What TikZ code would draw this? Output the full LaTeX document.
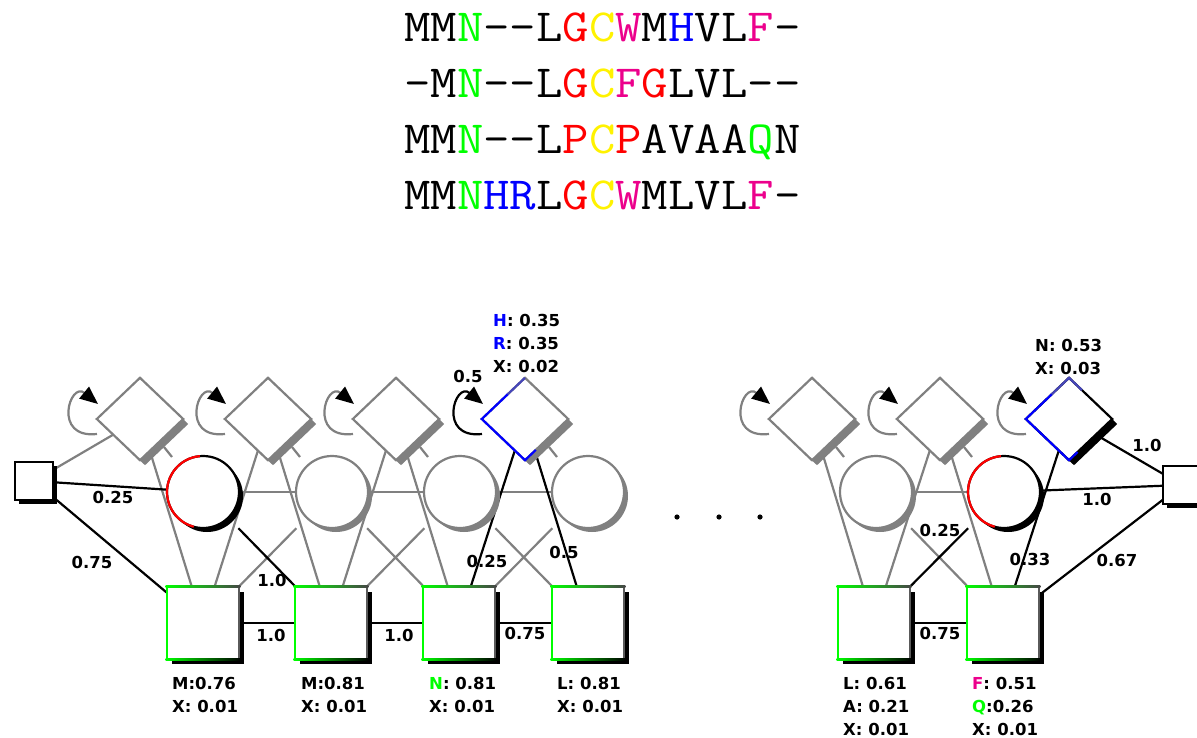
\documentclass[tikz,border=0pt]{standalone}
\usepackage{fontspec}
\setmainfont{DejaVu Sans}
\usetikzlibrary{shapes.geometric,arrows.meta,calc}
\definecolor{hg}{RGB}{128,128,128}
\definecolor{hgreen}{RGB}{0,255,0}
\definecolor{hdark}{RGB}{70,70,70}
\newcommand\hy{\mbox{-}}
\newcommand\sgreen[1]{\textcolor{hgreen}{#1}}
\newcommand\sred[1]{\textcolor{red}{#1}}
\newcommand\syellow[1]{\textcolor{yellow}{#1}}
\newcommand\smag[1]{\textcolor{magenta}{#1}}
\newcommand\sblue[1]{\textcolor{blue}{#1}}
\newcommand\seqline[1]{\scalebox{1.115}[1]{\ttfamily\addfontfeature{FakeBold=1.2}\fontsize{46}{54}\selectfont #1}}
% insert state visual: node, border colour, shadow colour
\newcommand\drawins[3]{%
  \fill[#3] ([shift={(5,5)}]#1.north) -- ([shift={(5,5)}]#1.east) -- ([shift={(5,5)}]#1.south) -- ([shift={(5,5)}]#1.west) -- cycle;
  \draw[fill=white, line width=2.2pt, draw=#2] (#1.north) -- (#1.east) -- (#1.south) -- (#1.west) -- cycle;
}
\newcommand\drawtick[1]{\draw[hg, line width=2.2pt] ([shift={(24,28)}]#1.center) -- ([shift={(32,38)}]#1.center);}
% delete state visual: node, border colour, shadow colour
\newcommand\drawdel[3]{%
  \fill[#3] ([shift={(4,4)}]#1.center) circle[radius=36pt];
  \draw[#2, fill=white, line width=2.2pt] (#1.center) circle[radius=36pt];
}
\newcommand\redarc[1]{\draw[red, line width=2.2pt] ([shift={(95:36pt)}]#1.center) arc[start angle=95, end angle=255, radius=36pt];}
% match state visual
\newcommand\drawmat[1]{%
  \fill[black] ([shift={(5,5)}]#1.north west) rectangle ([shift={(5,5)}]#1.south east);
  \draw[fill=white, draw=hg!70!black, line width=2.2pt] (#1.north west) rectangle (#1.south east);
  \shade[left color=hgreen, right color=hdark] ([shift={(-1.1,-1.1)}]#1.north west) rectangle ([shift={(1.1,1.1)}]#1.north east);
  \shade[left color=hgreen, right color=black] ([shift={(-1.1,-1.1)}]#1.south west) rectangle ([shift={(1.1,1.1)}]#1.south east);
  \draw[hgreen, line width=2.2pt] (#1.north west) -- (#1.south west);
}
\newcommand\drawterm[1]{%
  \fill[black] ([shift={(4,4)}]#1.north west) rectangle ([shift={(4,4)}]#1.south east);
  \draw[fill=white, draw=black, line width=2.2pt] (#1.north west) rectangle (#1.south east);
}
\newcommand\selfloop[2]{\draw[#2] ([shift={(-43,15)}]#1.center) .. controls ([shift={(-88,20)}]#1.center) and ([shift={(-70,-38)}]#1.center) .. ([shift={(-42,-15)}]#1.center);}

\begin{document}
\begin{tikzpicture}[x=1pt,y=-1pt,
  gedge/.style={draw=hg, line width=2.2pt},
  bedge/.style={draw=black, line width=2.2pt},
  ins/.style={shape=diamond, minimum width=86pt, minimum height=82pt, inner sep=0pt},
  del/.style={shape=rectangle, minimum size=72pt, inner sep=0pt},
  mat/.style={shape=rectangle, minimum size=72pt, inner sep=0pt},
  term/.style={shape=rectangle, minimum size=38pt, inner sep=0pt},
  lab/.style={font=\bfseries\fontsize{16.5}{23}\selectfont, inner sep=0pt},
  seq/.style={inner sep=0pt, anchor=base west},
  loopg/.style={draw=hg, line width=2.2pt, -{Triangle[length=18pt,width=15pt,color=black]}},
  loopb/.style={draw=black, line width=2.2pt, -{Triangle[length=18pt,width=15pt,color=black]}},
]
\clip (0,0) rectangle (1197,738);

% alignment
\node[seq] (s1) at (404,42) {\seqline{MM\sgreen{N}\hy\hy L\sred{G}\syellow{C}\smag{W}M\sblue{H}VL\smag{F}\hy}};
\node[seq] (s2) at (404,98) {\seqline{\hy M\sgreen{N}\hy\hy L\sred{G}\syellow{C}\smag{F}\sred{G}LVL\hy\hy}};
\node[seq] (s3) at (404,154) {\seqline{MM\sgreen{N}\hy\hy L\sred{P}\syellow{C}\sred{P}AVAA\sgreen{Q}N}};
\node[seq] (s4) at (404,210) {\seqline{MM\sgreen{N}\sblue{HR}L\sred{G}\syellow{C}\smag{W}MLVL\smag{F}\hy}};

% state placeholders
\node[term] (B) at (34,481) {};
\node[term] (E) at (1182,485) {};
\node[ins] (I0) at (140,419) {};
\node[ins] (I1) at (268,419) {};
\node[ins] (I2) at (396,419) {};
\node[ins] (I3) at (525,419) {};
\node[ins] (Ia) at (812,419) {};
\node[ins] (Ib) at (940,419) {};
\node[ins] (Ic) at (1069,419) {};
\node[del] (D1) at (203,492) {};
\node[del] (D2) at (332,492) {};
\node[del] (D3) at (460,492) {};
\node[del] (D4) at (588,492) {};
\node[del] (Da) at (876,492) {};
\node[del] (Db) at (1004,492) {};
\node[mat] (M1) at (203,623) {};
\node[mat] (M2) at (331,623) {};
\node[mat] (M3) at (459,623) {};
\node[mat] (M4) at (588,623) {};
\node[mat] (Ma) at (874,623) {};
\node[mat] (Mb) at (1003,623) {};

% grey transitions
\draw[gedge] (B) -- (I0);
\draw[gedge] (I0) -- (M1);
\draw[gedge] (M1) -- (I1);
\draw[gedge] (D1) -- (D2);
\draw[gedge] (M1) -- (D2);
\draw[gedge] (I1) -- (M2);
\draw[gedge] (M2) -- (I2);
\draw[gedge] (D2) -- (D3);
\draw[gedge] (D2) -- (M3);
\draw[gedge] (M2) -- (D3);
\draw[gedge] (I2) -- (M3);
\draw[gedge] (D3) -- (D4);
\draw[gedge] (D3) -- (M4);
\draw[gedge] (M3) -- (D4);
\draw[gedge] (Ia) -- (Ma);
\draw[gedge] (Ma) -- (Ib);
\draw[gedge] (Ib) -- (Mb);
\draw[gedge] (Da) -- (Db);
\draw[gedge] (Da) -- (Mb);
% black transitions
\draw[bedge] (B) -- (D1);
\draw[bedge] (B) -- (M1);
\draw[bedge] (D1) -- (M2);
\draw[bedge] (M1) -- (M2);
\draw[bedge] (M2) -- (M3);
\draw[bedge] (M3) -- (I3);
\draw[bedge] (I3) -- (M4);
\draw[bedge] (M3) -- (M4);
\draw[bedge] (Ma) -- (Db);
\draw[bedge] (Ma) -- (Mb);
\draw[bedge] (Mb) -- (Ic);
\draw[bedge] (Mb) -- (E);
\draw[bedge] (Db) -- (E);
\draw[bedge] (Ic) -- (E);

% shapes
\drawterm{B}
\drawterm{E}
\drawins{I0}{hg}{hg}\drawtick{I0}
\drawins{I1}{hg}{hg}\drawtick{I1}
\drawins{I2}{hg}{hg}\drawtick{I2}
\drawins{I3}{hg}{hg}\drawtick{I3}
\draw[blue, line width=2.2pt] ($(I3.west)!0.6!(I3.north)$) -- (I3.west) -- (I3.south) -- ($(I3.south)!0.25!(I3.east)$);
\draw[blue!45!hg, line width=2.2pt] ($(I3.west)!0.6!(I3.north)$) -- (I3.north);
\drawins{Ia}{hg}{hg}\drawtick{Ia}
\drawins{Ib}{hg}{hg}\drawtick{Ib}
\drawins{Ic}{black}{black}
\draw[blue, line width=2.2pt] ($(Ic.west)!0.6!(Ic.north)$) -- (Ic.west) -- (Ic.south) -- ($(Ic.south)!0.2!(Ic.east)$);
\draw[blue!45!hg, line width=2.2pt] ($(Ic.west)!0.6!(Ic.north)$) -- (Ic.north) -- ($(Ic.north)!0.3!(Ic.east)$);

\drawdel{D1}{black}{black}\redarc{D1}
\drawdel{D2}{hg}{hg}
\drawdel{D3}{hg}{hg}
\drawdel{D4}{hg}{hg}
\drawdel{Da}{hg}{hg}
\drawdel{Db}{black}{black}\redarc{Db}

\drawmat{M1}\drawmat{M2}\drawmat{M3}\drawmat{M4}\drawmat{Ma}\drawmat{Mb}

% self loops
\selfloop{I0}{loopg}
\selfloop{I1}{loopg}
\selfloop{I2}{loopg}
\selfloop{I3}{loopb}
\selfloop{Ia}{loopg}
\selfloop{Ib}{loopg}
\selfloop{Ic}{loopg}

% dots
\fill (677,517) circle[radius=2.6pt];
\fill (719,517) circle[radius=2.6pt];
\fill (760,517) circle[radius=2.6pt];

% edge labels
\node[lab] (l1) at (113,497) {0.25};
\node[lab] (l2) at (92,562) {0.75};
\node[lab] (l3) at (272,580) {1.0};
\node[lab] (l4) at (271,635) {1.0};
\node[lab] (l5) at (399,635) {1.0};
\node[lab] (l6) at (525,633) {0.75};
\node[lab] (l7) at (487,561) {0.25};
\node[lab] (l8) at (564,552) {0.5};
\node[lab] (l9) at (468,376) {0.5};
\node[lab] (l10) at (940,530) {0.25};
\node[lab] (l11) at (1030,559) {0.33};
\node[lab] (l12) at (940,633) {0.75};
\node[lab] (l13) at (1117,560) {0.67};
\node[lab] (l14) at (1097,499) {1.0};
\node[lab] (l15) at (1147,445) {1.0};

% emission labels
\node[lab, anchor=north west, align=left] (t3) at (493,314) {\sblue{H}: 0.35\\\sblue{R}: 0.35\\X: 0.02};
\node[lab, anchor=north west, align=left] (tc) at (1035,339) {N: 0.53\\X: 0.03};
\node[lab, anchor=north west, align=left] (e1) at (172,677) {M:0.76\\X: 0.01};
\node[lab, anchor=north west, align=left] (e2) at (301,677) {M:0.81\\X: 0.01};
\node[lab, anchor=north west, align=left] (e3) at (429,677) {\sgreen{N}: 0.81\\X: 0.01};
\node[lab, anchor=north west, align=left] (e4) at (557,677) {L: 0.81\\X: 0.01};
\node[lab, anchor=north west, align=left] (ea) at (843,677) {L: 0.61\\A: 0.21\\X: 0.01};
\node[lab, anchor=north west, align=left] (eb) at (972,677) {\smag{F}: 0.51\\\sgreen{Q}:0.26\\X: 0.01};
\end{tikzpicture}
\end{document}
